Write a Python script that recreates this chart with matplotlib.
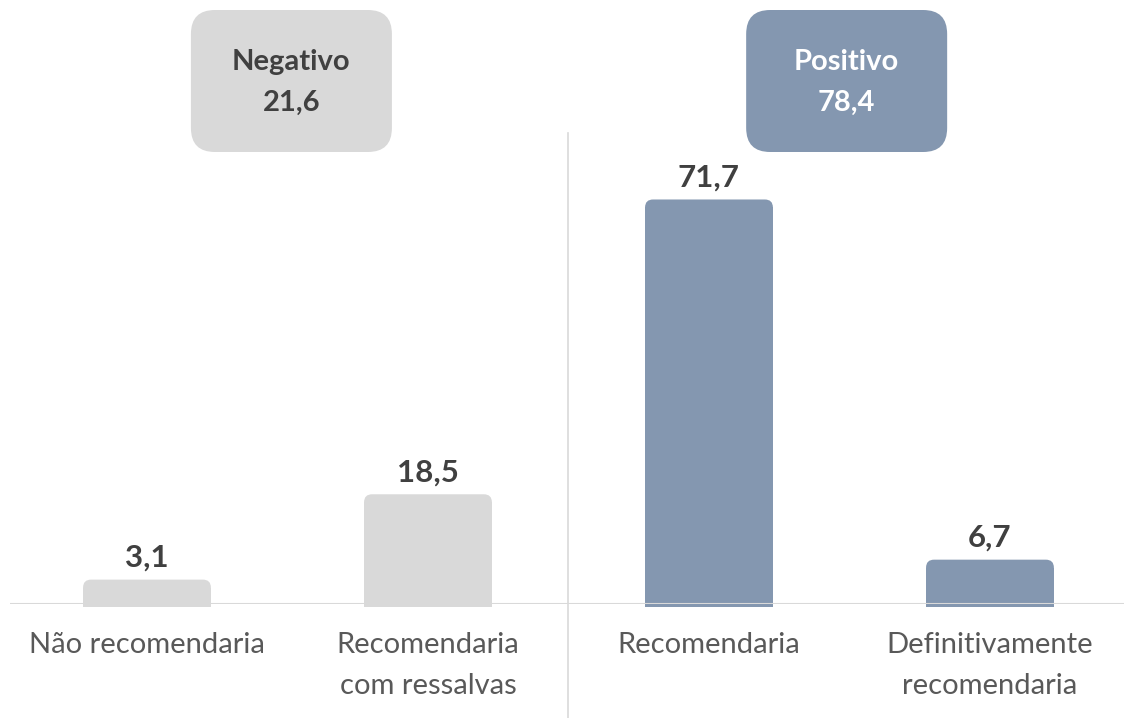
import matplotlib
matplotlib.use("Agg")
import matplotlib.pyplot as plt
from matplotlib.patches import FancyBboxPatch, Rectangle

categories = ["Não recomendaria", "Recomendaria\ncom ressalvas", "Recomendaria", "Definitivamente\nrecomendaria"]
values = [3.1, 18.5, 71.7, 6.7]
value_labels = ["3,1", "18,5", "71,7", "6,7"]
groups = ["Negativo", "Positivo"]
group_totals = ["21,6", "78,4"]

GRAY = "#d9d9d9"
BLUE = "#8497b0"
colors = [GRAY, GRAY, BLUE, BLUE]

plt.rcParams['font.family'] = ['Lato', 'DejaVu Sans']

W, H = 1124, 718
fig = plt.figure(figsize=(W / 100, H / 100), dpi=100)
ax_left, ax_right = 10, 1124
ax_bottom_px = 114
ax = fig.add_axes([ax_left / W, ax_bottom_px / H, (ax_right - ax_left) / W, (H - ax_bottom_px) / H])
ax.set_xlim(-0.4875, 3.477)
ax.set_ylim(0, 109)
ax.axis("off")

# scale helpers
px_per_x = (ax_right - ax_left) / (3.477 + 0.4875)
px_per_y = (H - ax_bottom_px) / 109
aspect = px_per_x / px_per_y

bar_w = 0.455
extra_top = 1.3
below = 0.5
r_px = 8
for i, (v, c) in enumerate(zip(values, colors)):
    x0 = i - bar_w / 2
    top = v + extra_top
    rx = r_px / px_per_x
    ry = r_px / px_per_y
    # square lower part
    ax.add_patch(Rectangle((x0, -below), bar_w, top + below - ry, facecolor=c, edgecolor="none", clip_on=False))
    # rounded top
    ax.add_patch(FancyBboxPatch((x0, top - 2 * ry), bar_w, 2 * ry,
                                boxstyle=f"round,pad=0,rounding_size={rx}",
                                mutation_aspect=aspect,
                                facecolor=c, edgecolor="none", clip_on=False))
    ax.text(i, top + 22 / px_per_y, value_labels[i], ha="center", va="center",
            fontsize=22.5, fontweight="bold", color="#404040")
    lines = categories[i].split("\n")
    for k, ln in enumerate(lines):
        ax.text(i, -(41 + 41 * k) / px_per_y, ln, ha="center", va="center",
                fontsize=21, color="#595959", clip_on=False)

# axis line
ax.axhline(0, color=GRAY, lw=1.5, zorder=3)
# divider
ax.axvline(1.5, ymin=-ax_bottom_px / (H - ax_bottom_px), ymax=(604 - 133) / (H - ax_bottom_px),
           color=GRAY, lw=1.2, clip_on=False)

# group boxes
box_w = 201 / px_per_x
box_y0 = (604 - 152) / px_per_y
box_h = 142 / px_per_y
box_face = [GRAY, BLUE]
box_text = ["#404040", "white"]
for j, cx in enumerate([0.514, 2.49]):
    rr = 24 / px_per_x
    ax.add_patch(FancyBboxPatch((cx - box_w / 2, box_y0), box_w, box_h,
                                boxstyle=f"round,pad=0,rounding_size={rr}",
                                mutation_aspect=aspect,
                                facecolor=box_face[j], edgecolor="none", clip_on=False))
    ax.text(cx, (604 - 62) / px_per_y, groups[j], ha="center", va="center",
            fontsize=21, fontweight="bold", color=box_text[j])
    ax.text(cx, (604 - 103) / px_per_y, group_totals[j], ha="center", va="center",
            fontsize=21, fontweight="bold", color=box_text[j])

fig.savefig("out.png", dpi=100, facecolor="white")
